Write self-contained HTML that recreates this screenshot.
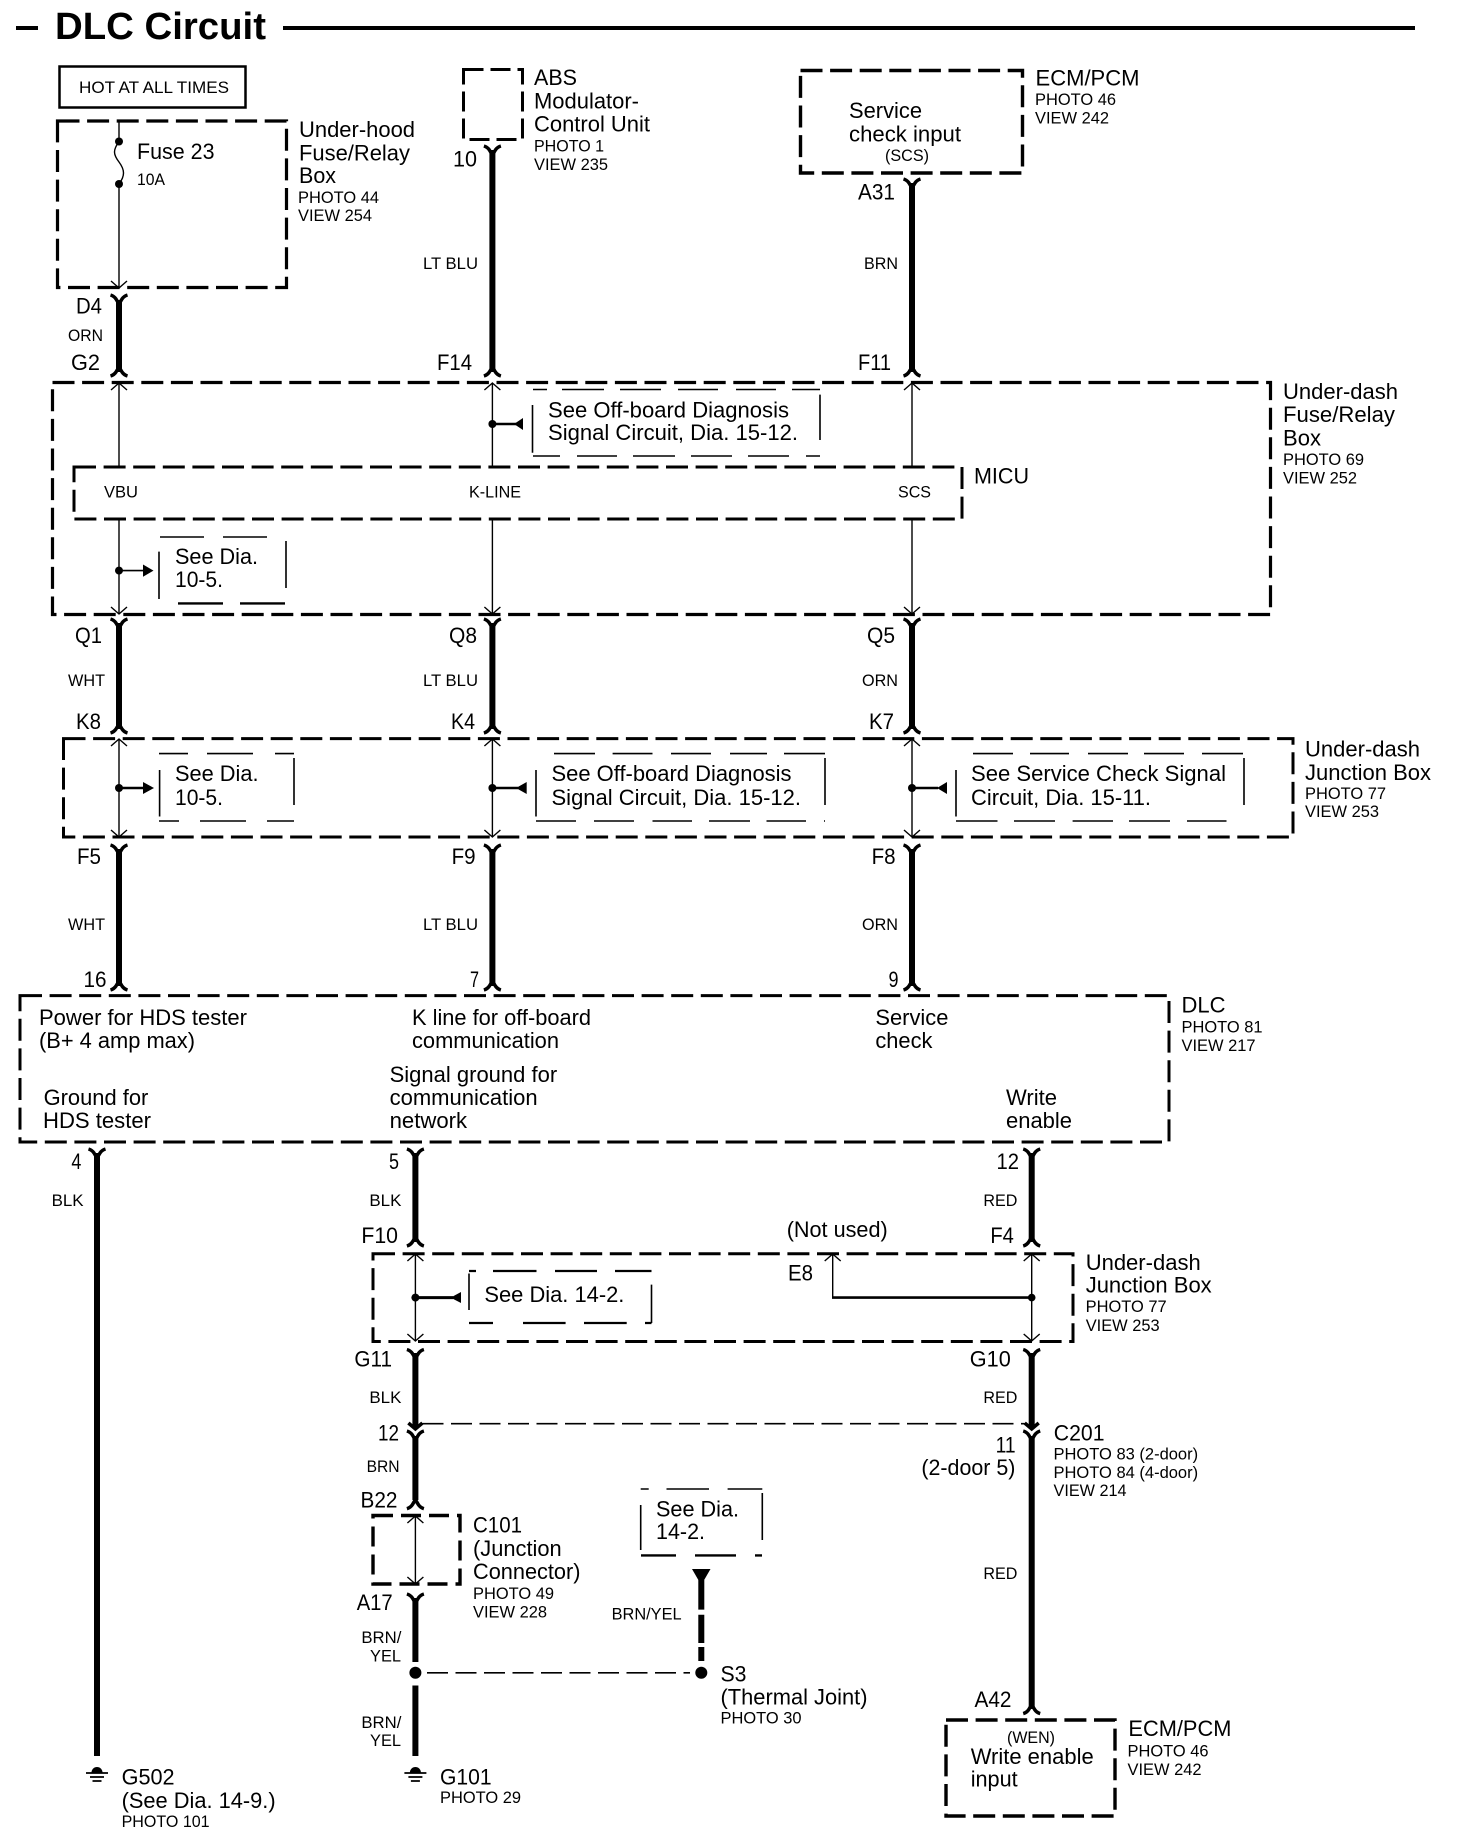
<!DOCTYPE html>
<html><head><meta charset="utf-8"><title>DLC Circuit</title>
<style>
html,body{margin:0;padding:0;background:#fff}
svg{display:block}
text{font-family:"Liberation Sans",sans-serif;fill:#000}
.a{font-size:22px}
.b{font-size:16.4px}
.w{stroke:#000;stroke-width:6;fill:none}
.t{stroke:#000;stroke-width:1.4;fill:none}
.d{stroke:#000;stroke-width:3.2;fill:none;stroke-dasharray:22 7.6}
.c{stroke:#000;stroke-width:1.6;fill:none}
.k{stroke:#000;stroke-width:2.6;fill:none}
.h{stroke:#000;stroke-width:1.6;fill:none;stroke-dasharray:21 7.5}
</style></head><body>
<svg width="1472" height="1848" viewBox="0 0 1472 1848" xmlns="http://www.w3.org/2000/svg">
<defs>
<path id="yt" d="M-8.5,0 Q-5,1 -3,4 L0,9 L3,4 Q5,1 8.5,0" fill="none" stroke="#000" stroke-width="3.5"/>
<path id="yb" d="M-8.5,0 Q-5,-1 -3,-4 L0,-9 L3,-4 Q5,-1 8.5,0" fill="none" stroke="#000" stroke-width="3.5"/>
<path id="au" d="M-8,7 L0,0 L8,7" fill="none" stroke="#000" stroke-width="1.4"/>
<path id="ad" d="M-8,-7 L0,0 L8,-7" fill="none" stroke="#000" stroke-width="1.4"/>
<path id="av" d="M-7,-6 L0,0 L7,-6" fill="none" stroke="#000" stroke-width="3.5"/>
<g id="gnd"><path d="M-5.5,0 A5.5,5.5 0 0 1 5.5,0 Z" fill="#000"/><path d="M-11,0.5 H11 M-7,4.5 H7 M-4.5,8.5 H4.5" stroke="#000" stroke-width="1.8" fill="none"/></g>
</defs>
<rect width="1472" height="1848" fill="#fff"/>

<!-- Title -->
<path d="M16,28 H38 M283,28 H1415" stroke="#000" stroke-width="4" fill="none"/>
<text x="55" y="39" font-size="38.4" font-weight="700" textLength="211" lengthAdjust="spacingAndGlyphs">DLC Circuit</text>

<!-- Hot -->
<rect x="59.5" y="66.5" width="186" height="41" fill="none" stroke="#000" stroke-width="2.5"/>
<text x="79" y="93" font-size="17" textLength="150" lengthAdjust="spacingAndGlyphs">HOT AT ALL TIMES</text>

<!-- Under-hood -->
<rect x="57.5" y="121" width="229" height="166.5" class="d"/>
<path d="M119,121 V141.5 C113,150 113,154 119,162 C125,170 125,176 119,184 V287" class="t"/>
<circle cx="119" cy="141.5" r="4"/><circle cx="119" cy="184" r="4"/>
<use href="#ad" x="119" y="288"/>
<text x="137" y="159" class="a" textLength="77.5" lengthAdjust="spacingAndGlyphs">Fuse 23</text>
<text x="137" y="185" class="b" textLength="28" lengthAdjust="spacingAndGlyphs">10A</text>
<text x="299" y="137" class="a" textLength="116" lengthAdjust="spacingAndGlyphs">Under-hood</text>
<text x="299" y="160.5" class="a" textLength="111" lengthAdjust="spacingAndGlyphs">Fuse/Relay</text>
<text x="299" y="183" class="a" textLength="37" lengthAdjust="spacingAndGlyphs">Box</text>
<text x="298" y="203" class="b" textLength="81" lengthAdjust="spacingAndGlyphs">PHOTO 44</text>
<text x="298" y="221" class="b" textLength="74" lengthAdjust="spacingAndGlyphs">VIEW 254</text>

<!-- Column 1 top -->
<use href="#yt" x="119" y="295"/><path d="M119,300 V372" class="w"/><use href="#yb" x="119" y="376"/>
<text x="76" y="313.5" class="a" textLength="26" lengthAdjust="spacingAndGlyphs">D4</text>
<text x="68" y="341" class="b" textLength="35" lengthAdjust="spacingAndGlyphs">ORN</text>
<text x="71" y="370" class="a" textLength="29" lengthAdjust="spacingAndGlyphs">G2</text>

<!-- ABS -->
<rect x="463.5" y="69.5" width="59" height="70" class="d" style="stroke-width:3;stroke-dasharray:20 7"/>
<use href="#yt" x="492.4" y="146"/><path d="M492.4,150 V372" class="w"/><use href="#yb" x="492.4" y="376"/>
<text x="453" y="166.5" class="a" textLength="24" lengthAdjust="spacingAndGlyphs">10</text>
<text x="423" y="269" class="b" textLength="55" lengthAdjust="spacingAndGlyphs">LT BLU</text>
<text x="437" y="370" class="a" textLength="35" lengthAdjust="spacingAndGlyphs">F14</text>
<text x="534" y="85" class="a" textLength="43" lengthAdjust="spacingAndGlyphs">ABS</text>
<text x="534" y="108.7" class="a" textLength="105" lengthAdjust="spacingAndGlyphs">Modulator-</text>
<text x="534" y="131.7" class="a" textLength="116" lengthAdjust="spacingAndGlyphs">Control Unit</text>
<text x="534" y="151.4" class="b" textLength="70" lengthAdjust="spacingAndGlyphs">PHOTO 1</text>
<text x="534" y="170" class="b" textLength="74" lengthAdjust="spacingAndGlyphs">VIEW 235</text>

<!-- ECM top -->
<rect x="800.5" y="70.5" width="222" height="102.5" class="d" style="stroke-width:3.4"/>
<text x="849" y="118" class="a" textLength="73" lengthAdjust="spacingAndGlyphs">Service</text>
<text x="849" y="141.5" class="a" textLength="112" lengthAdjust="spacingAndGlyphs">check input</text>
<text x="885" y="161" class="b" textLength="44" lengthAdjust="spacingAndGlyphs">(SCS)</text>
<text x="1035.5" y="85.4" class="a" textLength="104" lengthAdjust="spacingAndGlyphs">ECM/PCM</text>
<text x="1035" y="104.8" class="b" textLength="81" lengthAdjust="spacingAndGlyphs">PHOTO 46</text>
<text x="1035" y="123.4" class="b" textLength="74" lengthAdjust="spacingAndGlyphs">VIEW 242</text>
<use href="#yt" x="912" y="179"/><path d="M912,183 V372" class="w"/><use href="#yb" x="912" y="376"/>
<text x="858" y="199.7" class="a" textLength="37" lengthAdjust="spacingAndGlyphs">A31</text>
<text x="864" y="269" class="b" textLength="34" lengthAdjust="spacingAndGlyphs">BRN</text>
<text x="858" y="370" class="a" textLength="33" lengthAdjust="spacingAndGlyphs">F11</text>

<!-- Under-dash fuse box -->
<rect x="52.5" y="382.5" width="1218" height="232" class="d"/>
<text x="1283" y="399" class="a" textLength="115" lengthAdjust="spacingAndGlyphs">Under-dash</text>
<text x="1283" y="422" class="a" textLength="112" lengthAdjust="spacingAndGlyphs">Fuse/Relay</text>
<text x="1283" y="445.6" class="a" textLength="38" lengthAdjust="spacingAndGlyphs">Box</text>
<text x="1283" y="465" class="b" textLength="81" lengthAdjust="spacingAndGlyphs">PHOTO 69</text>
<text x="1283" y="483.6" class="b" textLength="74" lengthAdjust="spacingAndGlyphs">VIEW 252</text>
<rect x="74" y="467" width="888" height="52" class="d" style="stroke-width:3"/>
<text x="974" y="483.6" class="a" textLength="55" lengthAdjust="spacingAndGlyphs">MICU</text>
<text x="104" y="497.4" class="b" textLength="34" lengthAdjust="spacingAndGlyphs">VBU</text>
<text x="469" y="497.4" class="b" textLength="52" lengthAdjust="spacingAndGlyphs">K-LINE</text>
<text x="898" y="497.4" class="b" textLength="33" lengthAdjust="spacingAndGlyphs">SCS</text>
<path d="M119,383 V467 M119,519 V614 M492.4,383 V467 M492.4,519 V614 M912,383 V467 M912,519 V614" class="t"/>
<use href="#au" x="119" y="383"/><use href="#au" x="492.4" y="383"/><use href="#au" x="912" y="383"/>
<use href="#ad" x="119" y="614"/><use href="#ad" x="492.4" y="614"/><use href="#ad" x="912" y="614"/>

<!-- Off-board callout 1 -->
<path d="M532.5,405 V452.7 M820,394.6 V440 M533,389.5 H547 M562,389.5 H604 M620,389.5 H661 M678,389.5 H718 M736,389.5 H776 M792,389.5 H820 M533,456 H560 M577,456 H617 M633,456 H675 M691,456 H732 M748,456 H789 M806,456 H820" class="c"/>
<text x="548" y="417.5" class="a" textLength="241" lengthAdjust="spacingAndGlyphs">See Off-board Diagnosis</text>
<text x="548" y="440" class="a" textLength="250" lengthAdjust="spacingAndGlyphs">Signal Circuit, Dia. 15-12.</text>
<circle cx="492.4" cy="424" r="4"/><path d="M492.4,424 H516" class="k"/><path d="M514,424 L523,418 V430 Z"/>

<!-- See Dia 10-5 (1) -->
<path d="M159,551.6 V599 M286,541 V588 M160,537 H204 M223,537 H267" class="c"/>
<path d="M178,603.4 H223 M240,603.4 H285" stroke="#000" stroke-width="2.4" fill="none"/>
<text x="175" y="564" class="a" textLength="83" lengthAdjust="spacingAndGlyphs">See Dia.</text>
<text x="175" y="587" class="a" textLength="48" lengthAdjust="spacingAndGlyphs">10-5.</text>
<circle cx="119" cy="570.6" r="4"/><path d="M119,570.6 H145" class="c"/><path d="M143,564.5 L153.5,570.6 L143,576.7 Z"/>

<!-- Row 2 wires -->
<use href="#yt" x="119" y="619"/><path d="M119,623 V729" class="w"/><use href="#yb" x="119" y="733"/>
<use href="#yt" x="492.4" y="619"/><path d="M492.4,623 V729" class="w"/><use href="#yb" x="492.4" y="733"/>
<use href="#yt" x="912" y="619"/><path d="M912,623 V729" class="w"/><use href="#yb" x="912" y="733"/>
<text x="75" y="643" class="a" textLength="27" lengthAdjust="spacingAndGlyphs">Q1</text>
<text x="68" y="686" class="b" textLength="37" lengthAdjust="spacingAndGlyphs">WHT</text>
<text x="76" y="729" class="a" textLength="25" lengthAdjust="spacingAndGlyphs">K8</text>
<text x="449" y="643" class="a" textLength="28" lengthAdjust="spacingAndGlyphs">Q8</text>
<text x="423" y="686" class="b" textLength="55" lengthAdjust="spacingAndGlyphs">LT BLU</text>
<text x="451" y="729" class="a" textLength="24" lengthAdjust="spacingAndGlyphs">K4</text>
<text x="867" y="643" class="a" textLength="28" lengthAdjust="spacingAndGlyphs">Q5</text>
<text x="862" y="686" class="b" textLength="36" lengthAdjust="spacingAndGlyphs">ORN</text>
<text x="869" y="729" class="a" textLength="25" lengthAdjust="spacingAndGlyphs">K7</text>

<!-- Under-dash junction box -->
<rect x="63.5" y="738.6" width="1229.5" height="98.4" class="d" style="stroke-width:3"/>
<text x="1305" y="756.4" class="a" textLength="115" lengthAdjust="spacingAndGlyphs">Under-dash</text>
<text x="1305" y="780" class="a" textLength="126" lengthAdjust="spacingAndGlyphs">Junction Box</text>
<text x="1305" y="799" class="b" textLength="81" lengthAdjust="spacingAndGlyphs">PHOTO 77</text>
<text x="1305" y="817" class="b" textLength="74" lengthAdjust="spacingAndGlyphs">VIEW 253</text>
<path d="M119,739 V837 M492.4,739 V837 M912,739 V837" class="t"/>
<use href="#au" x="119" y="739"/><use href="#au" x="492.4" y="739"/><use href="#au" x="912" y="739"/>
<use href="#ad" x="119" y="837"/><use href="#ad" x="492.4" y="837"/><use href="#ad" x="912" y="837"/>

<path d="M159.6,770 V816.5 M294,758 V805 M159,753.6 H188 M207,753.6 H253 M275,753.6 H294 M159,821 H179 M200,821 H246 M267,821 H294" class="c"/>
<text x="175" y="781" class="a" textLength="83.5" lengthAdjust="spacingAndGlyphs">See Dia.</text>
<text x="175" y="805" class="a" textLength="48" lengthAdjust="spacingAndGlyphs">10-5.</text>
<circle cx="119" cy="788" r="4"/><path d="M119,788 H145" class="k"/><path d="M143,782 L154,788 L143,794 Z"/>

<path d="M536,770 V816.5 M825,758 V805 M554,753.6 H595 M612.6,753.6 H652.5 M671,753.6 H711 M730,753.6 H767 M784,753.6 H825 M536,821 H576 M594,821 H634 M652.5,821 H692 M709,821 H750 M766.5,821 H806 M824,821 H825" class="c"/>
<text x="551.5" y="781" class="a" textLength="240" lengthAdjust="spacingAndGlyphs">See Off-board Diagnosis</text>
<text x="551.5" y="805" class="a" textLength="249.5" lengthAdjust="spacingAndGlyphs">Signal Circuit, Dia. 15-12.</text>
<circle cx="492.4" cy="788" r="4"/><path d="M492.4,788 H518" class="k"/><path d="M516,788 L526.7,782 V794 Z"/>

<path d="M956,770 V816.5 M1244,758 V805 M973,753.6 H1013 M1030,753.6 H1069 M1088,753.6 H1128 M1144,753.6 H1184 M1202,753.6 H1243 M956,821 H997.5 M1014,821 H1055 M1072.6,821 H1113 M1129,821 H1170 M1187,821 H1226.5" class="c"/>
<text x="971" y="781" class="a" textLength="255" lengthAdjust="spacingAndGlyphs">See Service Check Signal</text>
<text x="971" y="805" class="a" textLength="180" lengthAdjust="spacingAndGlyphs">Circuit, Dia. 15-11.</text>
<circle cx="912" cy="788" r="4"/><path d="M912,788 H938" class="k"/><path d="M937,788 L947,782 V794 Z"/>

<!-- Row 3 wires to DLC -->
<use href="#yt" x="119" y="845"/><path d="M119,849 V986" class="w"/><use href="#yb" x="119" y="990"/>
<use href="#yt" x="492.4" y="845"/><path d="M492.4,849 V986" class="w"/><use href="#yb" x="492.4" y="990"/>
<use href="#yt" x="912" y="845"/><path d="M912,849 V986" class="w"/><use href="#yb" x="912" y="990"/>
<text x="77" y="864" class="a" textLength="24" lengthAdjust="spacingAndGlyphs">F5</text>
<text x="68" y="930" class="b" textLength="37" lengthAdjust="spacingAndGlyphs">WHT</text>
<text x="83.5" y="987" class="a" textLength="23" lengthAdjust="spacingAndGlyphs">16</text>
<text x="451.6" y="864" class="a" textLength="24" lengthAdjust="spacingAndGlyphs">F9</text>
<text x="423" y="930" class="b" textLength="55" lengthAdjust="spacingAndGlyphs">LT BLU</text>
<text x="470" y="987" class="a" textLength="9" lengthAdjust="spacingAndGlyphs">7</text>
<text x="871.6" y="864" class="a" textLength="24" lengthAdjust="spacingAndGlyphs">F8</text>
<text x="862" y="930" class="b" textLength="36" lengthAdjust="spacingAndGlyphs">ORN</text>
<text x="888.5" y="987" class="a" textLength="10" lengthAdjust="spacingAndGlyphs">9</text>

<!-- DLC -->
<rect x="20" y="995.6" width="1149" height="146.4" class="d" style="stroke-width:3"/>
<text x="39" y="1025" class="a" textLength="208" lengthAdjust="spacingAndGlyphs">Power for HDS tester</text>
<text x="39" y="1048" class="a" textLength="156" lengthAdjust="spacingAndGlyphs">(B+ 4 amp max)</text>
<text x="412" y="1025" class="a" textLength="179" lengthAdjust="spacingAndGlyphs">K line for off-board</text>
<text x="412" y="1048" class="a" textLength="147" lengthAdjust="spacingAndGlyphs">communication</text>
<text x="389.6" y="1082" class="a" textLength="167.6" lengthAdjust="spacingAndGlyphs">Signal ground for</text>
<text x="389.6" y="1105" class="a" textLength="148" lengthAdjust="spacingAndGlyphs">communication</text>
<text x="389.6" y="1128" class="a" textLength="77.5" lengthAdjust="spacingAndGlyphs">network</text>
<text x="43.6" y="1105" class="a" textLength="104.7" lengthAdjust="spacingAndGlyphs">Ground for</text>
<text x="43" y="1128" class="a" textLength="108" lengthAdjust="spacingAndGlyphs">HDS tester</text>
<text x="875.4" y="1025" class="a" textLength="73" lengthAdjust="spacingAndGlyphs">Service</text>
<text x="875.4" y="1048" class="a" textLength="57" lengthAdjust="spacingAndGlyphs">check</text>
<text x="1006" y="1105" class="a" textLength="51" lengthAdjust="spacingAndGlyphs">Write</text>
<text x="1006" y="1128" class="a" textLength="66" lengthAdjust="spacingAndGlyphs">enable</text>
<text x="1181.5" y="1012.6" class="a" textLength="44" lengthAdjust="spacingAndGlyphs">DLC</text>
<text x="1181.5" y="1032.4" class="b" textLength="81" lengthAdjust="spacingAndGlyphs">PHOTO 81</text>
<text x="1181.5" y="1051" class="b" textLength="74" lengthAdjust="spacingAndGlyphs">VIEW 217</text>

<!-- Bottom: left ground wire -->
<use href="#yt" x="97" y="1149"/><path d="M97,1153 V1756" class="w"/>
<use href="#gnd" x="97" y="1772.5"/>
<text x="71.4" y="1169" class="a" textLength="10" lengthAdjust="spacingAndGlyphs">4</text>
<text x="51.6" y="1206" class="b" textLength="32" lengthAdjust="spacingAndGlyphs">BLK</text>
<text x="121.6" y="1784.7" class="a" textLength="53" lengthAdjust="spacingAndGlyphs">G502</text>
<text x="121.6" y="1808" class="a" textLength="154" lengthAdjust="spacingAndGlyphs">(See Dia. 14-9.)</text>
<text x="121.6" y="1827" class="b" textLength="88" lengthAdjust="spacingAndGlyphs">PHOTO 101</text>

<!-- Mid wire -->
<use href="#yt" x="415.4" y="1149"/><path d="M415.4,1153 V1242" class="w"/><use href="#yb" x="415.4" y="1246"/>
<text x="389" y="1169" class="a" textLength="10" lengthAdjust="spacingAndGlyphs">5</text>
<text x="369.4" y="1206" class="b" textLength="32" lengthAdjust="spacingAndGlyphs">BLK</text>
<text x="361.4" y="1243" class="a" textLength="36.6" lengthAdjust="spacingAndGlyphs">F10</text>

<!-- Right wire -->
<use href="#yt" x="1031.7" y="1149"/><path d="M1031.7,1153 V1242" class="w"/><use href="#yb" x="1031.7" y="1246"/>
<text x="996.5" y="1169" class="a" textLength="22.5" lengthAdjust="spacingAndGlyphs">12</text>
<text x="983.4" y="1206" class="b" textLength="34" lengthAdjust="spacingAndGlyphs">RED</text>
<text x="990.4" y="1243" class="a" textLength="23.5" lengthAdjust="spacingAndGlyphs">F4</text>
<text x="786.7" y="1237" class="a" textLength="101" lengthAdjust="spacingAndGlyphs">(Not used)</text>

<!-- JB2 -->
<rect x="373" y="1253.7" width="700" height="87.8" class="d" style="stroke-width:3"/>
<text x="1085.7" y="1270" class="a" textLength="115" lengthAdjust="spacingAndGlyphs">Under-dash</text>
<text x="1085.7" y="1292.5" class="a" textLength="126" lengthAdjust="spacingAndGlyphs">Junction Box</text>
<text x="1085.7" y="1312" class="b" textLength="81" lengthAdjust="spacingAndGlyphs">PHOTO 77</text>
<text x="1085.7" y="1331" class="b" textLength="74" lengthAdjust="spacingAndGlyphs">VIEW 253</text>
<path d="M415.4,1254 V1341 M1031.7,1254 V1341 M832.7,1254 V1297.6" class="t"/>
<use href="#au" x="415.4" y="1254"/><use href="#au" x="1031.7" y="1254"/><use href="#au" x="832.7" y="1254"/>
<use href="#ad" x="415.4" y="1341"/><use href="#ad" x="1031.7" y="1341"/>
<path d="M832,1297.6 H1031.7" class="k"/><circle cx="1031.7" cy="1297.6" r="3.8"/>
<text x="788" y="1280.6" class="a" textLength="25" lengthAdjust="spacingAndGlyphs">E8</text>
<path d="M469,1273.5 V1310 M651.5,1284.6 V1323" class="c"/>
<path d="M469,1271 H476 M493,1271 H536.5 M555,1271 H597 M615,1271 H651.5 M469,1323 H493 M523,1323 H565.6 M584,1323 H626.7 M645,1323 H651.5" stroke="#000" stroke-width="2.2" fill="none"/>
<text x="484.4" y="1302" class="a" textLength="140" lengthAdjust="spacingAndGlyphs">See Dia. 14-2.</text>
<circle cx="415.4" cy="1297.6" r="4"/><path d="M415.4,1297.6 H453" stroke="#000" stroke-width="3" fill="none"/><path d="M450.6,1297.6 L461,1292 V1303 Z"/>

<!-- G11/G10 + C201 -->
<use href="#yt" x="415.4" y="1349.5"/><path d="M415.4,1353 V1427" class="w"/><use href="#av" x="415.4" y="1429"/>
<use href="#yt" x="415.4" y="1431"/><path d="M415.4,1436 V1500" class="w"/><use href="#yb" x="415.4" y="1508.7"/>
<use href="#yt" x="1031.7" y="1349.5"/><path d="M1031.7,1353 V1427" class="w"/><use href="#av" x="1031.7" y="1429"/>
<use href="#yt" x="1031.7" y="1431"/><path d="M1031.7,1436 V1709" class="w"/><use href="#yb" x="1031.7" y="1713.6"/>
<path d="M422.5,1423.7 H1024.7" class="h"/>
<text x="354.4" y="1366.4" class="a" textLength="37.6" lengthAdjust="spacingAndGlyphs">G11</text>
<text x="369.4" y="1403" class="b" textLength="32" lengthAdjust="spacingAndGlyphs">BLK</text>
<text x="969.8" y="1366.4" class="a" textLength="41" lengthAdjust="spacingAndGlyphs">G10</text>
<text x="983.4" y="1403" class="b" textLength="34" lengthAdjust="spacingAndGlyphs">RED</text>
<text x="378" y="1440.7" class="a" textLength="21" lengthAdjust="spacingAndGlyphs">12</text>
<text x="366.6" y="1472" class="b" textLength="33" lengthAdjust="spacingAndGlyphs">BRN</text>
<text x="360.5" y="1507.5" class="a" textLength="37" lengthAdjust="spacingAndGlyphs">B22</text>
<text x="995.6" y="1452.6" class="a" textLength="20" lengthAdjust="spacingAndGlyphs">11</text>
<text x="921.4" y="1475" class="a" textLength="94" lengthAdjust="spacingAndGlyphs">(2-door 5)</text>
<text x="1053.8" y="1440.3" class="a" textLength="50.7" lengthAdjust="spacingAndGlyphs">C201</text>
<text x="1053.5" y="1459.3" class="b" textLength="144.6" lengthAdjust="spacingAndGlyphs">PHOTO 83 (2-door)</text>
<text x="1053.5" y="1478" class="b" textLength="144.6" lengthAdjust="spacingAndGlyphs">PHOTO 84 (4-door)</text>
<text x="1053.5" y="1496" class="b" textLength="73" lengthAdjust="spacingAndGlyphs">VIEW 214</text>
<text x="983.4" y="1579" class="b" textLength="34" lengthAdjust="spacingAndGlyphs">RED</text>

<!-- C101 -->
<rect x="373" y="1515.5" width="87" height="68.5" class="d" style="stroke-width:3.4;stroke-dasharray:20 8"/>
<path d="M415.4,1516 V1584" class="t"/><use href="#au" x="415.4" y="1516"/><use href="#ad" x="415.4" y="1584"/>
<text x="473" y="1532.5" class="a" textLength="49" lengthAdjust="spacingAndGlyphs">C101</text>
<text x="473" y="1556" class="a" textLength="88.7" lengthAdjust="spacingAndGlyphs">(Junction</text>
<text x="473" y="1579" class="a" textLength="107.5" lengthAdjust="spacingAndGlyphs">Connector)</text>
<text x="473" y="1599" class="b" textLength="81" lengthAdjust="spacingAndGlyphs">PHOTO 49</text>
<text x="473" y="1617.5" class="b" textLength="74" lengthAdjust="spacingAndGlyphs">VIEW 228</text>
<use href="#yt" x="415.4" y="1594"/><path d="M415.4,1598 V1662 M415.4,1685.5 V1756" class="w"/>
<circle cx="415.4" cy="1672.8" r="6"/>
<path d="M427,1672.8 H690" class="h"/>
<text x="356.7" y="1610" class="a" textLength="36" lengthAdjust="spacingAndGlyphs">A17</text>
<text x="361.4" y="1643" class="b" textLength="40" lengthAdjust="spacingAndGlyphs">BRN/</text>
<text x="370" y="1661.7" class="b" textLength="31" lengthAdjust="spacingAndGlyphs">YEL</text>
<text x="361.4" y="1728" class="b" textLength="40" lengthAdjust="spacingAndGlyphs">BRN/</text>
<text x="370" y="1746" class="b" textLength="31" lengthAdjust="spacingAndGlyphs">YEL</text>
<use href="#gnd" x="415.4" y="1772.5"/>
<text x="440" y="1784.7" class="a" textLength="51.6" lengthAdjust="spacingAndGlyphs">G101</text>
<text x="440" y="1803" class="b" textLength="81" lengthAdjust="spacingAndGlyphs">PHOTO 29</text>

<!-- S3 -->
<path d="M692,1569 H710.5 L703,1582 H699.5 Z"/>
<path d="M701.3,1580 V1609.6 M701.3,1614.7 V1643 M701.3,1647 V1661" class="w"/>
<circle cx="701.3" cy="1672.8" r="6"/>
<text x="611.6" y="1619.5" class="b" textLength="70" lengthAdjust="spacingAndGlyphs">BRN/YEL</text>
<text x="720.5" y="1681.5" class="a" textLength="26" lengthAdjust="spacingAndGlyphs">S3</text>
<text x="720.5" y="1704.5" class="a" textLength="147" lengthAdjust="spacingAndGlyphs">(Thermal Joint)</text>
<text x="720.5" y="1723.5" class="b" textLength="81" lengthAdjust="spacingAndGlyphs">PHOTO 30</text>
<path d="M640.7,1505 V1550 M762.3,1493 V1540 M640.7,1489 H648.7 M666.5,1489 H709 M727.6,1489 H762.3" class="c"/>
<path d="M641,1555.4 H676 M695,1555.4 H736 M755,1555.4 H762" stroke="#000" stroke-width="2.4" fill="none"/>
<text x="656" y="1516.6" class="a" textLength="83" lengthAdjust="spacingAndGlyphs">See Dia.</text>
<text x="656" y="1539" class="a" textLength="49" lengthAdjust="spacingAndGlyphs">14-2.</text>

<!-- ECM bottom -->
<text x="974.5" y="1707" class="a" textLength="37" lengthAdjust="spacingAndGlyphs">A42</text>
<rect x="946" y="1720" width="169" height="96" class="d" style="stroke-width:3.4"/>
<text x="1007" y="1743" class="b" textLength="48" lengthAdjust="spacingAndGlyphs">(WEN)</text>
<text x="970.7" y="1764" class="a" textLength="123" lengthAdjust="spacingAndGlyphs">Write enable</text>
<text x="970.7" y="1786.7" class="a" textLength="47" lengthAdjust="spacingAndGlyphs">input</text>
<text x="1128.4" y="1736" class="a" textLength="103" lengthAdjust="spacingAndGlyphs">ECM/PCM</text>
<text x="1127.5" y="1756.6" class="b" textLength="81" lengthAdjust="spacingAndGlyphs">PHOTO 46</text>
<text x="1127.5" y="1775" class="b" textLength="74" lengthAdjust="spacingAndGlyphs">VIEW 242</text>
</svg>
</body></html>
